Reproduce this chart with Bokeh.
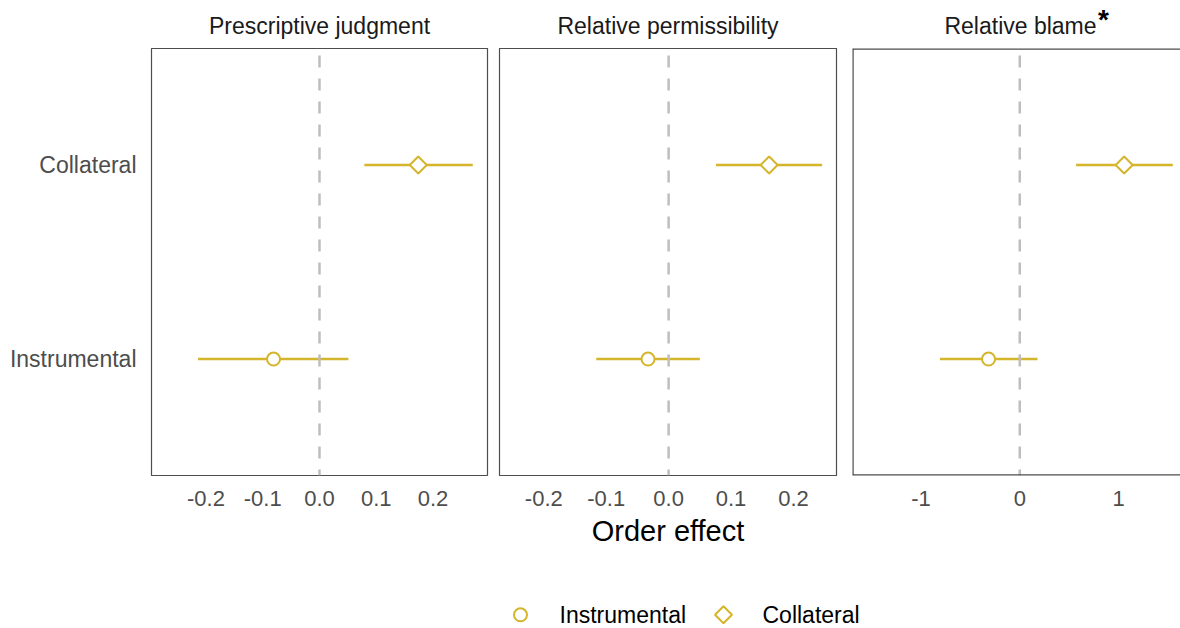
import math
from bokeh.plotting import figure
from bokeh.layouts import column, row
from bokeh.models import Range1d, FixedTicker, Span, ColumnDataSource
from bokeh.embed import file_html
from bokeh.resources import INLINE
from bokeh.core.properties import value

# ---------------- data ----------------
panel_titles = ["Prescriptive judgment", "Relative permissibility", "Relative blame"]
conditions = ["Instrumental", "Collateral"]

prescriptive_est = [-0.081, 0.174]
prescriptive_lo = [-0.214, 0.079]
prescriptive_hi = [0.051, 0.270]

permissibility_est = [-0.033, 0.161]
permissibility_lo = [-0.116, 0.076]
permissibility_hi = [0.050, 0.246]

blame_est = [-0.316, 1.056]
blame_lo = [-0.808, 0.570]
blame_hi = [0.179, 1.548]

prop_ticks = [-0.2, -0.1, 0.0, 0.1, 0.2]
prop_tick_labels = ["-0.2", "-0.1", "0.0", "0.1", "0.2"]
blame_ticks = [-1, 0, 1]
blame_tick_labels = ["-1", "0", "1"]

x_title = "Order effect"
blame_mark = "*"

# ---------------- style / layout ----------------
FONT = "Liberation Sans"
GOLD = "#D4B52B"
FRAME = "#4D4D4D"
TICK_COL = "#4D4D4D"
W, H = 1180, 628
STRIP_H = 48
LEG_H = 65
PANEL_H = H - STRIP_H - LEG_H
FRAME_H = 427
markers = {"Instrumental": ("circle", 13, 0.0), "Collateral": ("square", 12, math.pi / 4)}
ypos = {c: i + 1 for i, c in enumerate(conditions)}

# (figure width, border left, border right)
panel_geom = [(493, 151, 6), (351, 6, 8), (336, 8, 0)]


def make_panel(est, lo, hi, ticks, tick_labels, xr, geom,
               show_y=False, xlabel=None, outline=True):
    width, bl, br = geom
    p = figure(width=width, height=PANEL_H, x_range=Range1d(*xr),
               y_range=Range1d(0.4, 2.6), output_backend="svg",
               toolbar_location=None, min_border_left=bl, min_border_right=br,
               min_border_top=0, min_border_bottom=PANEL_H - FRAME_H,
               y_axis_location="left" if show_y else None)
    p.background_fill_color = "white"
    p.border_fill_color = "white"
    p.grid.visible = False
    p.outline_line_color = FRAME if outline else None
    p.outline_line_width = 1.2

    xa = p.xaxis[0]
    xa.ticker = FixedTicker(ticks=ticks)
    xa.major_label_overrides = {t: l for t, l in zip(ticks, tick_labels)}
    xa.axis_line_color = None
    xa.major_tick_line_color = None
    xa.minor_tick_line_color = None
    xa.major_label_text_font = FONT
    xa.major_label_text_font_size = "22px"
    xa.major_label_text_color = TICK_COL
    xa.major_label_standoff = 9
    if xlabel:
        xa.axis_label = xlabel
        xa.axis_label_text_font = FONT
        xa.axis_label_text_font_size = "29px"
        xa.axis_label_text_font_style = "normal"
        xa.axis_label_text_color = "black"
        xa.axis_label_standoff = 6

    if show_y:
        ya = p.yaxis[0]
        ya.ticker = FixedTicker(ticks=[ypos[c] for c in conditions])
        ya.major_label_overrides = {ypos[c]: c for c in conditions}
        ya.axis_line_color = None
        ya.major_tick_line_color = None
        ya.minor_tick_line_color = None
        ya.major_label_text_font = FONT
        ya.major_label_text_font_size = "23px"
        ya.major_label_text_color = TICK_COL
        ya.major_label_standoff = 9

    p.add_layout(Span(location=0, dimension="height", line_color="#BEBEBE",
                      line_width=2.5, line_dash="12 11", line_dash_offset=16))

    for i, c in enumerate(conditions):
        src = ColumnDataSource(dict(x=[est[i]], lo=[lo[i]], hi=[hi[i]], y=[ypos[c]]))
        p.segment(x0="lo", x1="hi", y0="y", y1="y", source=src,
                  line_color=GOLD, line_width=2.6)
        m, s, a = markers[c]
        p.scatter(x="x", y="y", source=src, marker=m, size=s, angle=a,
                  fill_color="white", line_color=GOLD, line_width=2)
    return p


f1 = make_panel(prescriptive_est, prescriptive_lo, prescriptive_hi,
                prop_ticks, prop_tick_labels, (-0.296, 0.296), panel_geom[0], show_y=True)
f2 = make_panel(permissibility_est, permissibility_lo, permissibility_hi,
                prop_ticks, prop_tick_labels, (-0.271, 0.269), panel_geom[1], xlabel=x_title)
f3_range = (-1.692, 1.626)
f3 = make_panel(blame_est, blame_lo, blame_hi,
                blame_ticks, blame_tick_labels, f3_range, panel_geom[2], outline=False)
# border on the visible sides of the last panel (its right side runs past the picture)
for loc, dim in ((f3_range[0], "height"), (2.6, "width"), (0.4, "width")):
    f3.add_layout(Span(location=loc, dimension=dim, line_color=FRAME, line_width=2.4))

# ---------------- strip with panel titles ----------------
strip = figure(width=W, height=STRIP_H, x_range=Range1d(0, W), y_range=Range1d(STRIP_H, 0),
               output_backend="svg", toolbar_location=None, min_border=0,
               x_axis_location=None, y_axis_location=None)
strip.grid.visible = False
strip.outline_line_color = None
# centre of each panel frame
title_x = []
left = 0
for (w, bl, br) in panel_geom:
    title_x.append(left + bl + (w - bl - br) / 2)
    left += w
title_x[2] = 1020  # last panel continues beyond the picture edge
strip.text(x=title_x, y=[25] * 3, text=panel_titles, text_font=value(FONT),
           text_font_size="23px", text_color="#1A1A1A", text_align="center",
           text_baseline="middle")
strip.text(x=[1103], y=[19], text=[blame_mark], text_font=value(FONT),
           text_font_size="28px", text_font_style="bold", text_color="black",
           text_align="center", text_baseline="middle")

# ---------------- legend strip ----------------
lf = figure(width=W, height=LEG_H, x_range=Range1d(0, W), y_range=Range1d(0, LEG_H),
            output_backend="svg", toolbar_location=None, min_border=0,
            x_axis_location=None, y_axis_location=None)
lf.grid.visible = False
lf.outline_line_color = None
leg_glyph_x = [520, 723]
leg_label_x = [559, 762]
leg_y = 13.7
for i, c in enumerate(conditions):
    m, s, a = markers[c]
    lf.scatter(x=[leg_glyph_x[i]], y=[leg_y], marker=m, size=s, angle=a,
               fill_color="white", line_color=GOLD, line_width=2)
lf.text(x=leg_label_x, y=[leg_y] * len(conditions), text=conditions,
        text_font=value(FONT), text_font_size="23px", text_color="black",
        text_baseline="middle", text_align="left")

layout = column(strip, row(f1, f2, f3), lf)
open("out.html", "w").write(file_html(layout, INLINE))
